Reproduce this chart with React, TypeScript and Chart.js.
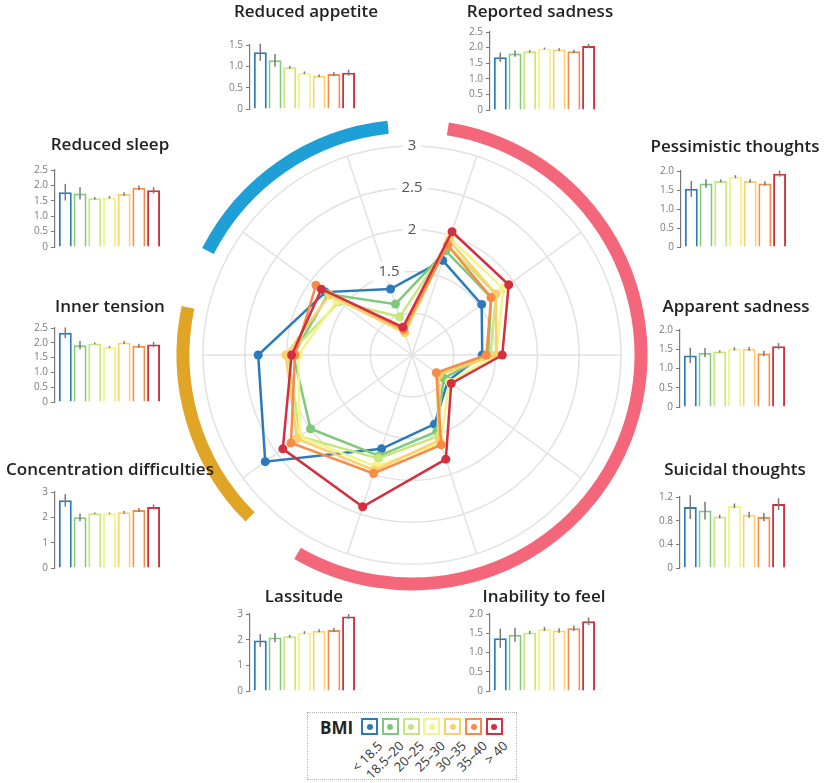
import { useEffect, useRef } from 'react'
import { Chart, registerables } from 'chart.js'
Chart.register(...registerables)

const FONT = '"Open Sans", "Noto Sans", sans-serif'
Chart.defaults.font.family = FONT

const BMI_GROUPS = ['< 18.5', '18.5–20', '20–25', '25–30', '30–35', '35–40', '> 40']
const BMI_COLORS = ['#2b7bba', '#7fc97a', '#c8e67e', '#f4f48a', '#fdd06b', '#f98a47', '#d2303f']

const SYMPTOMS = [
  'Reported sadness', 'Pessimistic thoughts', 'Apparent sadness', 'Suicidal thoughts',
  'Inability to feel', 'Lassitude', 'Concentration difficulties', 'Inner tension',
  'Reduced sleep', 'Reduced appetite',
]

// mean score and error per BMI group
const reportedSadness    = [1.69, 1.81, 1.88, 1.97, 1.94, 1.88, 2.05]
const reportedSadnessErr = [0.15, 0.10, 0.04, 0.03, 0.04, 0.05, 0.07]
const pessimisticThoughts    = [1.53, 1.67, 1.74, 1.85, 1.74, 1.67, 1.93]
const pessimisticThoughtsErr = [0.21, 0.11, 0.04, 0.04, 0.05, 0.06, 0.08]
const apparentSadness    = [1.34, 1.41, 1.44, 1.51, 1.51, 1.39, 1.58]
const apparentSadnessErr = [0.20, 0.12, 0.03, 0.04, 0.05, 0.07, 0.08]
const suicidalThoughts    = [1.03, 0.97, 0.87, 1.05, 0.90, 0.86, 1.08]
const suicidalThoughtsErr = [0.20, 0.15, 0.03, 0.04, 0.05, 0.07, 0.10]
const inabilityToFeel    = [1.37, 1.46, 1.52, 1.61, 1.57, 1.63, 1.81]
const inabilityToFeelErr = [0.25, 0.18, 0.04, 0.05, 0.06, 0.07, 0.10]
const lassitude    = [1.97, 2.08, 2.13, 2.28, 2.35, 2.38, 2.90]
const lassitudeErr = [0.25, 0.18, 0.05, 0.05, 0.06, 0.08, 0.10]
const concentration    = [2.67, 2.00, 2.16, 2.16, 2.20, 2.29, 2.41]
const concentrationErr = [0.25, 0.15, 0.03, 0.03, 0.05, 0.08, 0.10]
const innerTension    = [2.34, 1.92, 1.98, 1.86, 2.01, 1.90, 1.94]
const innerTensionErr = [0.18, 0.14, 0.03, 0.03, 0.05, 0.07, 0.09]
const reducedSleep    = [1.78, 1.74, 1.58, 1.61, 1.72, 1.92, 1.84]
const reducedSleepErr = [0.27, 0.20, 0.04, 0.04, 0.06, 0.08, 0.10]
const reducedAppetite    = [1.33, 1.14, 0.98, 0.85, 0.78, 0.82, 0.85]
const reducedAppetiteErr = [0.20, 0.15, 0.03, 0.03, 0.03, 0.05, 0.07]

// the radar's lassitude spoke sits lower than its bars
const radarLassitude = [1.68, 1.77, 1.80, 1.90, 1.95, 1.99, 2.41]

const MEANS = [reportedSadness, pessimisticThoughts, apparentSadness, suicidalThoughts, inabilityToFeel,
  lassitude, concentration, innerTension, reducedSleep, reducedAppetite]
const ERRORS = [reportedSadnessErr, pessimisticThoughtsErr, apparentSadnessErr, suicidalThoughtsErr, inabilityToFeelErr,
  lassitudeErr, concentrationErr, innerTensionErr, reducedSleepErr, reducedAppetiteErr]
const RADAR_AXES = [reportedSadness, pessimisticThoughts, apparentSadness, suicidalThoughts, inabilityToFeel,
  radarLassitude, concentration, innerTension, reducedSleep, reducedAppetite]

const RADAR_TICKS = [1.5, 2, 2.5, 3]
const BAR_MAX  = [2.5, 2, 2, 1.2, 2, 3, 3, 2.5, 2.5, 1.5]
const BAR_STEP = [0.5, 0.5, 0.5, 0.4, 0.5, 1, 1, 0.5, 0.5, 0.5]

const ARC_GROUPS = [
  { from: 0, to: 5, color: '#f4677a' },
  { from: 6, to: 7, color: '#e1a526' },
  { from: 8, to: 9, color: '#1e9fd5' },
]

// layout of the small panels (same order as SYMPTOMS)
const PANELS = [
  { axisX: 490, y0: 111, yTop: 31,  cx: 540, capTop: 5 },
  { axisX: 681, y0: 248, yTop: 170, cx: 735, capTop: 140 },
  { axisX: 680, y0: 408, yTop: 329, cx: 736, capTop: 300 },
  { axisX: 680, y0: 569, yTop: 496, cx: 735, capTop: 463 },
  { axisX: 490, y0: 692, yTop: 613, cx: 544, capTop: 590 },
  { axisX: 250, y0: 692, yTop: 613, cx: 304, capTop: 590 },
  { axisX: 55,  y0: 569, yTop: 491, cx: 110, capTop: 463 },
  { axisX: 55,  y0: 403, yTop: 327, cx: 110, capTop: 300 },
  { axisX: 55,  y0: 248, yTop: 169, cx: 110, capTop: 138 },
  { axisX: 250, y0: 110, yTop: 44,  cx: 306, capTop: 5 },
]

const errorBarPlugin = {
  id: 'errorBars',
  afterDatasetsDraw(chart: any, _args: any, opts: any) {
    const meta = chart.getDatasetMeta(0)
    const y = chart.scales.y
    const means = chart.data.datasets[0].data as number[]
    const ctx = chart.ctx
    ctx.save()
    ctx.strokeStyle = '#7a7a7a'
    ctx.lineWidth = 1.5
    meta.data.forEach((bar: any, i: number) => {
      const m = means[i], e = opts.errors[i]
      ctx.beginPath()
      ctx.moveTo(bar.x, y.getPixelForValue(m - e))
      ctx.lineTo(bar.x, y.getPixelForValue(m + e))
      ctx.stroke()
    })
    ctx.restore()
  },
}

// coloured group arcs round the radar, plus upright ring labels
const radarDecorPlugin = {
  id: 'radarDecor',
  beforeDatasetsDraw(chart: any) {
    const r = chart.scales.r
    const ctx = chart.ctx
    const half = Math.PI / SYMPTOMS.length
    const startGap = (9 * Math.PI) / 180
    const endGap = (6 * Math.PI) / 180
    ctx.save()
    ctx.lineWidth = 13
    ctx.lineCap = 'butt'
    ARC_GROUPS.forEach(g => {
      const a0 = r.getIndexAngle(g.from) - half - Math.PI / 2 + startGap
      const a1 = r.getIndexAngle(g.to) + half - Math.PI / 2 - endGap
      ctx.strokeStyle = g.color
      ctx.beginPath()
      ctx.arc(r.xCenter, r.yCenter, r.drawingArea + 20, a0, a1)
      ctx.stroke()
    })

    ctx.font = `15px ${FONT}`
    ctx.textAlign = 'center'
    ctx.textBaseline = 'middle'
    RADAR_TICKS.forEach(v => {
      const label = String(v)
      const nudge = v === 1.5 ? -23 : 0
      const x = r.xCenter + nudge
      const y = r.yCenter - r.getDistanceFromCenterForValue(v)
      const w = ctx.measureText(label).width
      ctx.fillStyle = '#fff'
      ctx.fillRect(x - w / 2 - 5, y - 10, w + 10, 20)
      ctx.fillStyle = '#555'
      ctx.fillText(label, x, y)
    })
    ctx.restore()
  },
}

function fmt(v: number, step: number) {
  if (v === 0) return '0'
  return step < 1 ? v.toFixed(1) : String(v)
}

function Radar() {
  const canvasRef = useRef<HTMLCanvasElement>(null)
  useEffect(() => {
    if (!canvasRef.current) return
    const chart = new Chart(canvasRef.current, {
      type: 'radar',
      data: {
        labels: SYMPTOMS,
        datasets: BMI_GROUPS.map((label, g) => ({
          label,
          data: RADAR_AXES.map(a => a[g]),
          borderColor: BMI_COLORS[g],
          backgroundColor: BMI_COLORS[g],
          pointBackgroundColor: BMI_COLORS[g],
          pointBorderWidth: 0,
          pointRadius: 4.5,
          borderWidth: 2.5,
          fill: false,
          order: BMI_GROUPS.length - 1 - g,
        })),
      },
      options: {
        animation: false,
        responsive: true,
        maintainAspectRatio: false,
        layout: { padding: 51 },
        plugins: { legend: { display: false }, tooltip: { enabled: false } },
        scales: {
          r: {
            min: 0.5,
            max: 3,
            startAngle: 18,
            ticks: { stepSize: 0.5, display: false },
            grid: { circular: true, color: '#e2e2e2', lineWidth: 1.5 },
            angleLines: { color: '#e2e2e2', lineWidth: 1.5 },
            pointLabels: { display: false },
          },
        },
      },
      plugins: [radarDecorPlugin],
    })
    return () => { chart.destroy() }
  }, [])
  return (
    <div style={{ position: 'absolute', left: 152, top: 95, width: 520, height: 520 }}>
      <canvas ref={canvasRef} />
    </div>
  )
}

function MiniBar({ idx }: { idx: number }) {
  const canvasRef = useRef<HTMLCanvasElement>(null)
  const p = PANELS[idx]
  useEffect(() => {
    if (!canvasRef.current) return
    const chart = new Chart(canvasRef.current, {
      type: 'bar',
      data: {
        labels: BMI_GROUPS,
        datasets: [{
          data: MEANS[idx],
          backgroundColor: '#fff',
          borderColor: BMI_COLORS,
          borderWidth: 2,
          barPercentage: 1,
          categoryPercentage: 0.88,
          clip: false as any,
        }],
      },
      options: {
        animation: false,
        responsive: true,
        maintainAspectRatio: false,
        layout: { padding: { top: 8, bottom: 8, right: 4, left: 0 } },
        plugins: {
          legend: { display: false },
          tooltip: { enabled: false },
          errorBars: { errors: ERRORS[idx] },
        } as any,
        scales: {
          x: { display: false, afterDataLimits: (s: any) => { s.min = -0.2 } },
          y: {
            min: 0,
            max: BAR_MAX[idx],
            afterFit: (s: any) => { s.width = 30 },
            ticks: {
              stepSize: BAR_STEP[idx],
              color: '#7a7a7a',
              padding: 3,
              font: { size: 10, family: FONT },
              callback: (v: any) => fmt(+v, BAR_STEP[idx]),
            },
            grid: { drawOnChartArea: false, tickLength: 4, color: '#7a7a7a' },
            border: { color: '#7a7a7a', width: 1.2 },
          },
        },
      },
      plugins: [errorBarPlugin],
    })
    return () => { chart.destroy() }
  }, [idx])
  return (
    <>
      <div style={{
        position: 'absolute', left: p.axisX - 30, top: p.yTop - 8,
        width: 137, height: p.y0 - p.yTop + 16,
      }}>
        <canvas ref={canvasRef} />
      </div>
      <div style={{
        position: 'absolute', left: p.cx, top: p.capTop - 3, transform: 'translateX(-50%)',
        fontFamily: FONT, fontSize: 17, lineHeight: '17px', fontWeight: 600, color: '#222',
        whiteSpace: 'nowrap',
      }}>
        {SYMPTOMS[idx]}
      </div>
    </>
  )
}

function Legend() {
  return (
    <div style={{
      position: 'absolute', left: 307, top: 712, width: 208, height: 66,
      border: '1.5px dotted #b0b0b0', fontFamily: FONT,
    }}>
      <div style={{ position: 'absolute', left: 12, top: 6, fontSize: 17, lineHeight: '17px', fontWeight: 700, color: '#222' }}>
        BMI
      </div>
      {BMI_GROUPS.map((g, i) => {
        const x = 53 + i * 20.8
        return (
          <div key={g}>
            <div style={{
              position: 'absolute', left: x, top: 5, width: 17, height: 17,
              border: `2px solid ${BMI_COLORS[i]}`, boxSizing: 'border-box',
            }}>
              <div style={{
                position: 'absolute', left: 3.5, top: 3.5, width: 6, height: 6,
                borderRadius: '50%', background: BMI_COLORS[i],
              }} />
            </div>
            <div style={{ position: 'absolute', left: x + 15, top: 26, width: 0, height: 0 }}>
              <span style={{
                position: 'absolute', right: 0, top: 0, transformOrigin: 'right top',
                transform: 'rotate(-45deg)', fontSize: 13, lineHeight: '13px',
                color: '#333', whiteSpace: 'nowrap',
              }}>
                {g}
              </span>
            </div>
          </div>
        )
      })}
    </div>
  )
}

export default function App() {
  return (
    <div style={{ position: 'relative', width: 826, height: 783, background: '#fff', overflow: 'hidden' }}>
      <style>{'body{margin:0}'}</style>
      <Radar />
      {SYMPTOMS.map((_, i) => <MiniBar key={i} idx={i} />)}
      <Legend />
    </div>
  )
}
